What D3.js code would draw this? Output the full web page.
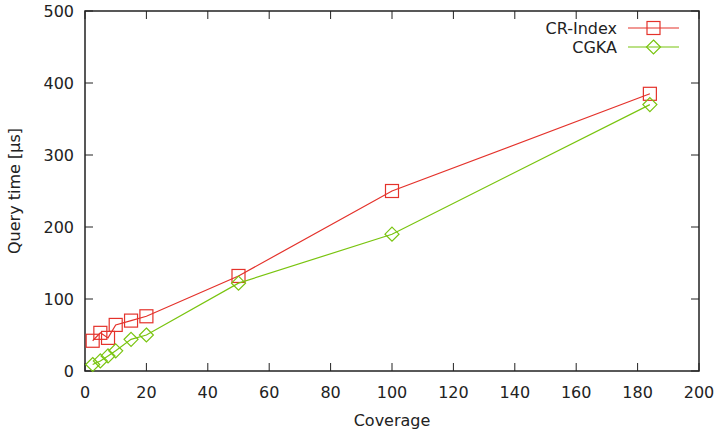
<!DOCTYPE html>
<html>
<head>
<meta charset="utf-8">
<script src="https://cdn.jsdelivr.net/npm/d3@7/dist/d3.min.js"></script>
<style>
  body { margin: 0; background: #fff; }
  text { font-family: "DejaVu Sans", sans-serif; fill: #222; font-size: 16px; }
</style>
</head>
<body>
<svg width="717" height="433"></svg>
<script>
var coverage = [2.5, 5, 7.5, 10, 15, 20, 50, 100, 184];
var crIndex  = [42, 53, 46, 64, 70, 76, 132, 250, 385];
var cgka     = [9, 14, 21, 28, 44, 50, 122, 190, 370];
var xTicks = [0, 20, 40, 60, 80, 100, 120, 140, 160, 180, 200];
var yTicks = [0, 100, 200, 300, 400, 500];

var series = [
    { name: "CR-Index", values: crIndex, color: "#e4322b", shape: "square" },
    { name: "CGKA", values: cgka, color: "#79c40f", shape: "diamond" }
];

function main() {
    var svg = d3.select("svg");
    var pLeft = 85, pRight = 699, pTop = 11, pBottom = 371;

    var x = d3.scaleLinear().domain([0, 200]).range([pLeft, pRight]);
    var y = d3.scaleLinear().domain([0, 500]).range([pBottom, pTop]);

    // frame
    svg.append("rect")
        .attr("x", pLeft).attr("y", pTop)
        .attr("width", pRight - pLeft).attr("height", pBottom - pTop)
        .attr("fill", "none").attr("stroke", "#222").attr("stroke-width", 1.5);

    // ticks (gnuplot style: inner ticks on all sides)
    xTicks.forEach(function(t) {
        svg.append("line").attr("x1", x(t)).attr("x2", x(t)).attr("y1", pBottom).attr("y2", pBottom - 8)
            .attr("stroke", "#222");
        svg.append("line").attr("x1", x(t)).attr("x2", x(t)).attr("y1", pTop).attr("y2", pTop + 8)
            .attr("stroke", "#222");
        svg.append("text").attr("x", x(t)).attr("y", pBottom + 27)
            .attr("text-anchor", "middle").text(t);
    });
    yTicks.forEach(function(t) {
        svg.append("line").attr("x1", pLeft).attr("x2", pLeft + 8).attr("y1", y(t)).attr("y2", y(t))
            .attr("stroke", "#222");
        svg.append("line").attr("x1", pRight).attr("x2", pRight - 8).attr("y1", y(t)).attr("y2", y(t))
            .attr("stroke", "#222");
        svg.append("text").attr("x", pLeft - 11).attr("y", y(t) + 6)
            .attr("text-anchor", "end").text(t);
    });

    // axis titles
    svg.append("text").attr("x", (pLeft + pRight) / 2).attr("y", 426)
        .attr("text-anchor", "middle").text("Coverage");
    svg.append("text")
        .attr("transform", "translate(20," + ((pTop + pBottom) / 2) + ") rotate(-90)")
        .attr("text-anchor", "middle").text("Query time [µs]");

    function marker(g, shape, cx, cy, color) {
        if (shape === "square") {
            g.append("rect").attr("x", cx - 6.5).attr("y", cy - 6.5)
                .attr("width", 13).attr("height", 13)
                .attr("fill", "none").attr("stroke", color).attr("stroke-width", 1.2);
        } else {
            var r = 7;
            g.append("path")
                .attr("d", "M" + cx + "," + (cy - r) + "L" + (cx + r) + "," + cy + "L" + cx + "," + (cy + r) + "L" + (cx - r) + "," + cy + "Z")
                .attr("fill", "none").attr("stroke", color).attr("stroke-width", 1.2);
        }
    }

    var line = d3.line()
        .x(function(d, i) { return x(coverage[i]); })
        .y(function(d) { return y(d); });

    series.forEach(function(s, k) {
        var g = svg.append("g");
        g.append("path").attr("d", line(s.values))
            .attr("fill", "none").attr("stroke", s.color).attr("stroke-width", 1.2);
        s.values.forEach(function(v, i) {
            marker(g, s.shape, x(coverage[i]), y(v), s.color);
        });

        // legend
        var ly = 28 + k * 19;
        svg.append("text").attr("x", 617).attr("y", ly + 6)
            .attr("text-anchor", "end").text(s.name);
        svg.append("line").attr("x1", 628).attr("x2", 679).attr("y1", ly).attr("y2", ly)
            .attr("stroke", s.color).attr("stroke-width", 1.2);
        marker(svg, s.shape, 653.5, ly, s.color);
    });
}
main();
</script>
</body>
</html>
